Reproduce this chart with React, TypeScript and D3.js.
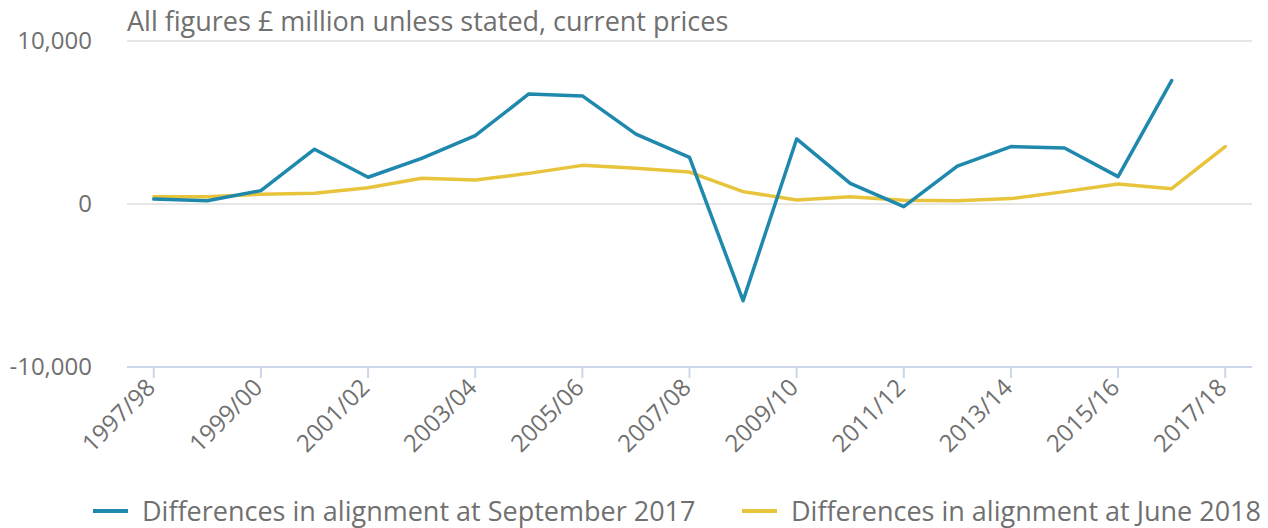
import React from "react";
import * as d3 from "d3";

const categories = [
  "1997/98", "1998/99", "1999/00", "2000/01", "2001/02", "2002/03", "2003/04",
  "2004/05", "2005/06", "2006/07", "2007/08", "2008/09", "2009/10", "2010/11",
  "2011/12", "2012/13", "2013/14", "2014/15", "2015/16", "2016/17", "2017/18",
];

const sept2017: (number | null)[] = [
  300, 200, 820, 3360, 1640, 2800, 4190, 6750, 6630, 4290, 2860, -5930,
  3990, 1270, -160, 2330, 3520, 3440, 1680, 7570, null,
];

const june2018: number[] = [
  450, 450, 600, 660, 1000, 1580, 1470, 1880, 2370, 2190, 1960, 760,
  250, 450, 230, 200, 330, 760, 1230, 940, 3520,
];

const yTicks = [-10000, 0, 10000];
const xTickLabels = categories.filter((_, i) => i % 2 === 0);

const seriesNames = [
  "Differences in alignment at September 2017",
  "Differences in alignment at June 2018",
];
const colors = ["#1f88ad", "#e8c43c"];

const W = 1268;
const H = 528;
const plotLeft = 127;
const plotRight = 1252;
const plotTop = 41;
const plotBottom = 367;
const FONT = "'Open Sans', sans-serif";
const TEXT = "#707070";

export default function App() {
  const x = d3.scalePoint<string>().domain(categories).range([plotLeft, plotRight]).padding(0.5);
  const y = d3.scaleLinear().domain([-10000, 10000]).range([plotBottom, plotTop]);
  const fmt = d3.format(",");

  const line = d3
    .line<number | null>()
    .defined((d) => d !== null)
    .x((_, i) => x(categories[i]) as number)
    .y((d) => y(d as number));

  return (
    <svg
      width={W}
      height={H}
      style={{ position: "absolute", left: 0, top: 0, fontFamily: FONT }}
    >
      <rect width={W} height={H} fill="#ffffff" />
      <text x={plotLeft} y={31} fontSize={27} fill={TEXT}>
        All figures £ million unless stated, current prices
      </text>
      {yTicks.map((t) => (
        <g key={t}>
          {t !== -10000 && (
            <line x1={plotLeft} x2={plotRight} y1={y(t)} y2={y(t)} stroke="#e6e6e6" strokeWidth={2} />
          )}
          <text x={92} y={y(t) + 8} textAnchor="end" fontSize={24} fill={TEXT}>
            {fmt(t).replace("−", "-")}
          </text>
        </g>
      ))}
      <line x1={plotLeft} x2={plotRight} y1={plotBottom} y2={plotBottom} stroke="#ccd6eb" strokeWidth={2} />
      {xTickLabels.map((c) => {
        const xx = x(c) as number;
        return (
          <g key={c}>
            <line x1={xx} x2={xx} y1={plotBottom} y2={plotBottom + 11} stroke="#ccd6eb" strokeWidth={2} />
            <text
              transform={`translate(${xx + 3},${plotBottom + 22}) rotate(-45)`}
              textAnchor="end"
              fontSize={24}
              fill={TEXT}
            >
              {c}
            </text>
          </g>
        );
      })}
      <path d={line(june2018) || ""} fill="none" stroke={colors[1]} strokeWidth={3.5} strokeLinejoin="round" strokeLinecap="round" />
      <path d={line(sept2017) || ""} fill="none" stroke={colors[0]} strokeWidth={3.5} strokeLinejoin="round" strokeLinecap="round" />
      {seriesNames.map((n, i) => {
        const lx = i === 0 ? 93 : 742;
        return (
          <g key={n}>
            <line x1={lx} x2={lx + 35} y1={511} y2={511} stroke={colors[i]} strokeWidth={4} />
            <text x={lx + 49} y={521} fontSize={27} fill={TEXT}>
              {n}
            </text>
          </g>
        );
      })}
    </svg>
  );
}
